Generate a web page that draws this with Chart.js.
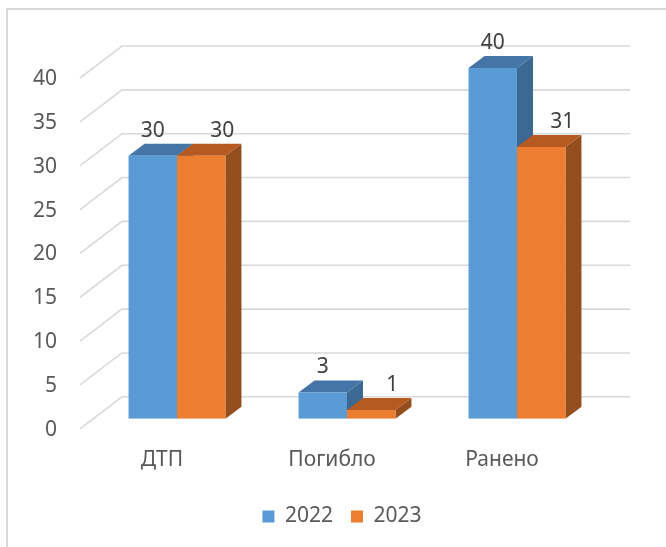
<!DOCTYPE html>
<html>
<head>
<meta charset="utf-8">
<script src="https://cdn.jsdelivr.net/npm/chart.js@4"></script>
<style>
    html, body { margin: 0; padding: 0; background: #fff; }
    #wrap { position: relative; width: 666px; height: 547px; overflow: hidden; }
    #frame { position: absolute; left: 6px; top: 8px; width: 700px; height: 600px; border: 2px solid #d9d9d9; box-sizing: border-box; }
    canvas { position: absolute; left: 0; top: 0; }
</style>
</head>
<body>
<div id="wrap">
    <div id="frame"></div>
    <canvas id="chart" width="666" height="547"></canvas>
</div>
<script>
const categories = ['ДТП', 'Погибло', 'Ранено'];
const series2022 = [30, 3, 40];
const series2023 = [30, 1, 31];
const seriesLabels = ['2022', '2023'];

const FONT = "'Noto Sans', sans-serif";
const DEPTH_X = 16, DEPTH_Y = -12;

// face colours per dataset: [top, side]
const faces = [
    ['#4475a6', '#3c6894'],
    ['#b65a22', '#944e1d']
];

const threeD = {
    id: 'threeD',
    beforeDatasetsDraw(chart) {
        const ctx = chart.ctx;
        const y = chart.scales.y;
        const area = chart.chartArea;

        // back wall gridlines with the diagonal floor part
        ctx.save();
        ctx.strokeStyle = '#d9d9d9';
        ctx.lineWidth = 1.6;
        y.ticks.forEach(t => {
            const py = y.getPixelForValue(t.value);
            ctx.beginPath();
            ctx.moveTo(area.left - 12, py + 10);
            ctx.lineTo(area.left + 30, py - 22);
            ctx.lineTo(area.right + 28, py - 22);
            ctx.stroke();
        });

        // top and side faces of the bars
        chart.data.datasets.forEach((ds, di) => {
            chart.getDatasetMeta(di).data.forEach(bar => {
                const l = bar.x - bar.width / 2, r = bar.x + bar.width / 2;
                const top = bar.y, base = bar.base;
                ctx.fillStyle = faces[di][0];
                ctx.beginPath();
                ctx.moveTo(l, top);
                ctx.lineTo(l + DEPTH_X, top + DEPTH_Y);
                ctx.lineTo(r + DEPTH_X, top + DEPTH_Y);
                ctx.lineTo(r, top);
                ctx.closePath();
                ctx.fill();
                ctx.fillStyle = faces[di][1];
                ctx.beginPath();
                ctx.moveTo(r, top);
                ctx.lineTo(r + DEPTH_X, top + DEPTH_Y);
                ctx.lineTo(r + DEPTH_X, base + DEPTH_Y);
                ctx.lineTo(r, base);
                ctx.closePath();
                ctx.fill();
            });
        });
        ctx.restore();
    },
    afterDatasetsDraw(chart) {
        const ctx = chart.ctx;
        ctx.save();
        ctx.font = '21px ' + FONT;
        ctx.fillStyle = '#404040';
        ctx.textAlign = 'center';
        ctx.textBaseline = 'middle';
        chart.data.datasets.forEach((ds, di) => {
            chart.getDatasetMeta(di).data.forEach((bar, i) => {
                ctx.fillText(ds.data[i], bar.x + (di === 1 ? 21 : 0), bar.y - 25);
            });
        });
        ctx.restore();
    }
};

new Chart(document.getElementById('chart'), {
    type: 'bar',
    data: {
        labels: categories,
        datasets: [{
            label: seriesLabels[0],
            data: series2022,
            backgroundColor: '#5b9bd5'
        }, {
            label: seriesLabels[1],
            data: series2023,
            backgroundColor: '#ed7d31'
        }]
    },
    options: {
        responsive: false,
        animation: false,
        devicePixelRatio: 1,
        layout: {
            padding: { left: 18, right: 0, top: 68, bottom: 10 }
        },
        categoryPercentage: 0.57,
        barPercentage: 1,
        plugins: {
            tooltip: { enabled: false },
            legend: {
                position: 'bottom',
                labels: {
                    boxWidth: 12,
                    boxHeight: 12,
                    padding: 18,
                    color: '#595959',
                    font: { family: FONT, size: 21 }
                }
            }
        },
        scales: {
            x: {
                afterFit(scale) { scale.height -= 14; },
                grid: { display: false, drawTicks: false },
                border: { display: false },
                ticks: {
                    color: '#595959',
                    font: { family: FONT, size: 21 },
                    padding: 29,
                    labelOffset: -15
                }
            },
            y: {
                min: 0,
                max: 40,
                afterFit(scale) { scale.width = 74; },
                grid: { display: false, drawTicks: false },
                border: { display: false },
                ticks: {
                    stepSize: 5,
                    color: '#595959',
                    font: { family: FONT, size: 21 },
                    padding: 35,
                    labelOffset: 11
                }
            },
            // empty right-hand axis, only reserves the space right of the plot
            yRight: {
                position: 'right',
                afterFit(scale) { scale.width = 64; },
                grid: { display: false, drawTicks: false },
                border: { display: false },
                ticks: { display: false }
            }
        }
    },
    plugins: [threeD]
});
</script>
</body>
</html>
